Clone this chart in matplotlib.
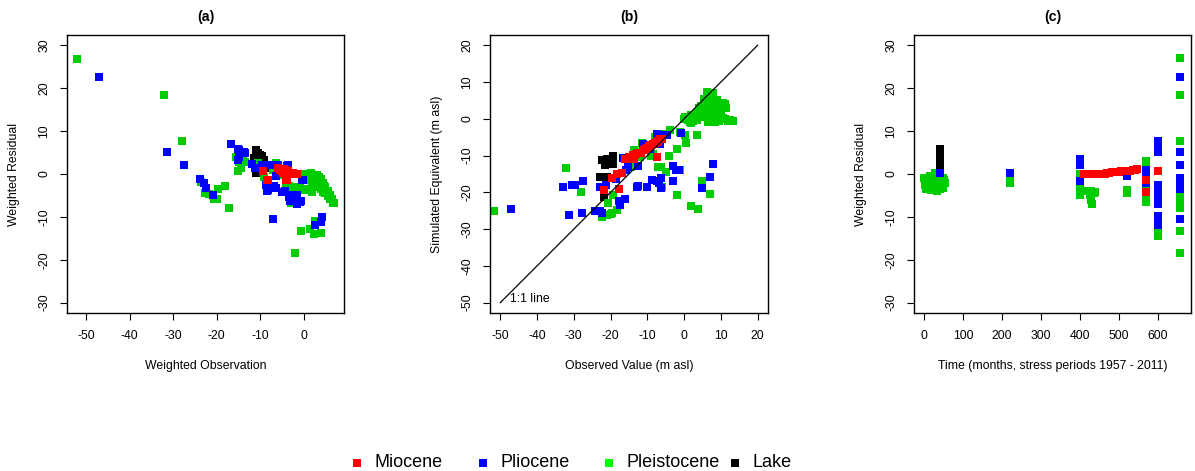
import numpy as np
import matplotlib
matplotlib.use("Agg")
import matplotlib.pyplot as plt
from matplotlib.lines import Line2D

plt.rcParams['font.family'] = ['Liberation Sans', 'DejaVu Sans']
plt.rcParams['axes.unicode_minus'] = False

# colours as in the original R plot (points in green3, legend in green)
col_mio = '#FF0000'
col_plio = '#0000FF'
col_plei = '#00CD00'
col_lake = '#000000'

# ---- panel (a): weighted observation vs weighted residual
a_mio_x = [-9.3, -8.4, -8.2, -5.9, -5.5, -5.0, -4.5, -4.2, -4.0, -3.5, -3.0, -2.5, -2.0, -1.5, -4.8, -3.8, -4.0]
a_mio_y = [0.7, -1.5, -1.3, 1.5, 1.0, 0.8, 1.2, 0.5, 0.9, 0.6, 0.3, 0.2, 0.1, 0.0, 0.3, -1.3, -1.3]

a_lake_x = [-11.0, -10.5, -10.0, -9.5, -11.5, -9.0, -10.8, -9.5, -11.0, -8.8]
a_lake_y = [5.5, 5.0, 4.5, 4.2, 3.8, 3.3, 2.5, 2.0, 0.3, 1.5]

a_plio_x = [-47.0, -31.5, -27.5, -23.9, -23.0, -22.5, -20.9, -16.6, -15.1, -14.8, -14.9, -15.2,
            -13.8, -13.5, -11.8, -11.2, -11.0, -9.3, -9.5, -7.4, -7.7, -5.9, -3.8, -3.6, -8.6, -8.2,
            -8.5, -8.4, -7.1, -6.7, -6.4, -6.3, -5.0, -4.3, -3.2, -3.1, -3.3, -1.7, -1.5, -1.3,
            -1.5, -0.8, -0.5, -0.4, -0.2, 4.3, 3.9, 2.7]
a_plio_y = [22.5, 5.2, 2.0, -1.1, -2.2, -3.2, -5.0, 7.1, 5.9, 5.5, 3.9, 3.2,
            5.1, 5.0, 2.3, 1.5, 1.3, 2.2, 2.0, 2.2, 2.1, 2.2, 1.9, 2.0, -2.5, -3.7,
            -2.9, -3.9, -10.6, -2.7, -3.3, -0.4, -4.3, -3.9, -4.8, -6.3, -5.3, -4.8, -5.0, -6.4,
            -7.0, -6.5, -6.2, -1.5, -1.3, -10.0, -11.3, -11.9]

a_plei_x = [-52.1, -32.0, -28.0, -23.5, -22.6, -21.8, -20.5, -19.9, -19.7, -18.0, -17.1, -15.5,
            -14.9, -13.5, -15.2, -14.3, -14.0, -10.4, -9.0, -6.4, -7.0, -6.0, -5.0, -4.0, -3.4,
            -2.5, -2.3, -0.9, 0.2, -2.8, -4.0, 2.0, 2.1, 2.7, 1.4, -0.5, 2.3, 3.9, -1.9,
            -0.5, 0.0, 0.2, 0.5, 1.0, 1.5, 1.8, 2.0, 2.5, 3.0, 3.5, 4.0, 4.1, 4.5, 4.8, 5.0, 5.5,
            5.6, 6.0, 6.5, 6.7, 7.0, 1.0, 1.5, 2.0, 2.5, 3.0, 3.5, 4.0, 4.5, 5.0, 5.5, 3.0, 2.0,
            4.0, 3.5, 1.0, 6.0, 0.5]
a_plei_y = [26.9, 18.5, 7.8, -1.8, -4.4, -4.7, -5.8, -5.8, -3.4, -2.7, -8.0, 3.9,
            2.8, 2.7, 0.7, 1.5, 3.5, 2.6, -0.6, 2.6, 1.0, 1.0, -0.3, -0.5, -2.9,
            -3.3, -3.0, -3.0, -3.7, -6.7, -3.0, -4.2, -2.1, -11.0, -12.8, -13.2, -14.1, -13.8, -18.5,
            0.0, -0.2, -0.2, 0.0, -0.3, 0.0, 0.2, -0.2, -0.5, -0.3, -0.8, -1.2, -1.3, -2.0, -2.9, -3.0, -4.0,
            -4.8, -5.0, -5.8, -6.8, -6.8, -1.0, -1.5, -1.2, -2.0, -2.5, -3.0, -3.5, -4.2, -4.5, -5.2, -1.5, -2.5,
            -2.8, -2.0, -3.5, -5.8, -1.2]

# ---- panel (b): observed vs simulated (m asl)
b_mio_obs = [-21.9, -19.6, -17.6, -18.2, -17.0, -16.0, -15.0, -14.3, -14.0, -13.5, -13.0, -12.5, -11.6,
             -11.0, -10.5, -10.0, -9.5, -9.0, -8.5, -8.0, -7.5, -7.0, -6.6, -6.0, -7.5]
b_mio_sim = [-19.3, -16.2, -19.0, -15.1, -14.7, -11.0, -10.5, -10.6, -9.8, -10.8, -9.5, -9.3, -9.2,
             -8.5, -8.2, -7.8, -7.5, -7.0, -6.8, -6.5, -6.0, -6.2, -5.6, -5.5, -10.4]

b_lake_obs = [-22.4, -21.6, -21.1, -19.8, -19.2, -19.3, -22.9, -21.0, -21.9, -16.5]
b_lake_sim = [-11.1, -12.5, -10.9, -11.1, -10.2, -12.4, -15.8, -15.8, -21.2, -10.6]

b_plio_obs = [-47.0, -33.0, -30.5, -29.6, -27.4, -31.4, -27.7, -24.3, -23.0, -23.0, -22.3, -21.2,
              -17.7, -17.4, -18.4, -16.3, -15.7, -15.2, -12.5, -11.2, -10.2, -9.2, -7.5, -6.6, -5.7,
              -4.7, -0.8, -3.1, -2.3, -1.5, -3.1, 7.8, 7.1, 4.8, -6.2, -6.4, -6.7, -7.5, -8.8,
              -10.2, -12.8, -12.4, -16.1]
b_plio_sim = [-24.4, -18.6, -18.0, -18.0, -16.8, -26.2, -25.6, -25.1, -25.1, -18.6, -25.5, -18.0,
              -22.3, -23.5, -16.3, -10.6, -14.0, -13.0, -12.9, -6.8, -7.0, -8.1, -4.0, -6.9, -4.4,
              -4.3, -3.8, -12.7, -14.0, -13.8, -17.0, -12.4, -15.9, -18.7, -16.1, -18.8, -17.5, -17.0, -16.5,
              -18.6, -18.5, -18.4, -21.9]

b_plei_obs = [-51.8, -32.0, -28.0, -22.4, -21.0, -20.0, -19.5, -20.8, -19.3, -18.2, -15.2, -14.5,
              -14.0, -13.0, -12.5, -11.5, -10.0, -9.0, -8.5, -8.0, -7.0, -6.3, -6.0, -4.9, -4.1,
              -2.0, 0.6, -1.1, 3.5, 4.8, -2.0, 1.9, 3.9, 7.1, 0.3, -1.1, -3.8, -5.5, -6.5,
              -12.0, -13.5,
              0.0, 0.3, 1.0, 1.5, 2.0, 2.5, 2.0, 3.0, 3.5, 4.0, 3.5, 4.0, 4.5, 5.0, 5.5, 5.3, 6.0,
              6.2, 6.5, 7.0, 7.0, 7.5, 8.0, 8.0, 8.0, 8.4, 7.0, 6.5, 8.0, 9.0, 9.3, 9.8, 10.0,
              10.5, 11.0, 11.0, 12.0, 13.4, 9.0, 6.0, 5.0, 10.5, 12.5, 11.5, 9.5, 8.5]
b_plei_sim = [-25.1, -13.5, -20.0, -26.8, -26.2, -26.0, -25.5, -23.0, -20.7, -24.9, -12.4, -13.0,
              -11.5, -10.5, -9.0, -6.5, -8.0, -10.0, -9.5, -5.0, -13.1, -13.1, -18.5, -14.5, -10.2,
              -8.3, -6.5, -14.0, -4.5, -17.0, -20.6, -23.6, -24.4, -20.4, -4.3, -3.7, -3.0, -4.0, -5.5,
              -10.5, -8.5,
              0.0, 0.5, -0.3, -0.8, -1.0, -0.5, 1.0, 0.0, -0.3, 0.5, 1.5, 3.0, 3.5, 2.0, 4.0, 5.5, 4.5,
              7.4, 3.0, 6.0, 2.0, 4.0, 7.1, 5.0, 3.0, 1.3, 1.3, -0.9, -0.9, 0.5, 3.9, 0.0, 2.0,
              4.2, 4.0, 0.0, -0.6, -0.5, 5.0, 1.0, 0.5, 0.3, -0.2, 3.0, -0.6, -0.8]

# ---- panel (c): time (months) vs weighted residual
c_mio_t = [410, 416, 422, 428, 434, 440, 446, 452, 458, 464, 470, 476, 482, 488, 494, 500,
           506, 512, 518, 524, 530, 536, 542, 548, 570, 570, 600]
c_mio_res = [0.0, 0.0, 0.0, 0.0, 0.0, 0.0, 0.0, 0.0, 0.0, 0.1, 0.3, 0.3, 0.4, 0.4, 0.5, 0.5,
             0.6, 0.6, 0.7, 0.8, 0.8, 0.9, 1.0, 1.1, -1.3, -4.2, 0.6]

c_lake_t = [40, 40, 40, 40, 40, 40, 40, 40, 40, 40]
c_lake_res = [5.8, 5.3, 4.8, 4.3, 3.8, 3.3, 2.8, 2.3, 0.6, 0.4]

c_plio_t = [40, 220, 400, 400, 400, 520, 570, 570, 570, 570, 600, 600, 600, 600, 600, 600, 600,
            600, 600, 600, 600, 600, 658, 658, 658, 658, 658, 658, 658, 658]
c_plio_res = [0.2, 0.2, 3.6, 2.2, -1.6, -0.5, 1.0, 0.0, -1.2, -2.0, 7.6, 6.5, 5.2, -2.5, -3.5,
              -4.5, -5.5, -6.5, -7.0, -9.8, -11.0, -12.0, 22.5, 5.2, 2.0, -1.0, -2.0, -3.0, -3.5, -10.6]

c_plei_t = [0, 2, 5, 8, 10, 12, 15, 18, 20, 22, 25, 28, 30, 32, 35, 38, 40, 42, 45, 48, 50, 52,
            3, 14, 27, 37, 47,
            220, 220, 400, 400, 400, 400, 400, 400, 422, 425, 428, 430, 435, 440, 428,
            520, 520, 570, 570, 570, 570, 570, 600, 600, 600,
            658, 658, 658, 658, 658, 658, 658, 658, 658]
c_plei_res = [-1.0, -2.5, -3.5, -1.5, -3.0, -2.0, -0.5, -3.8, -1.2, -2.8, -3.3, 0.2, -1.8, -4.0,
              -2.2, -0.8, -3.5, -1.0, -2.7, -3.2, -1.5, -2.0,
              -2.0, -1.5, -3.8, -2.5, -1.0,
              -1.2, -2.0, 0.0, -0.5, -2.0, -3.0, -4.0, -5.0, -4.0, -5.0, -6.0, -7.0, -4.5, -4.2, -4.0,
              -3.7, -4.5, 3.0, 2.0, -3.0, -5.0, -6.5, -12.8, -13.5, -14.5,
              27.0, 18.5, 7.8, -4.0, -5.0, -6.0, -8.0, -13.2, -18.5]

ms = 5.8
fs = 8.8

fig = plt.figure(figsize=(11.95, 4.71), dpi=100)
ax_a = fig.add_axes([0.0561, 0.3355, 0.2318, 0.5902])
ax_b = fig.add_axes([0.4100, 0.3355, 0.2326, 0.5902])
ax_c = fig.add_axes([0.7650, 0.3355, 0.2318, 0.5902])


def scatter_groups(ax, groups):
    for x, y, c in groups:
        ax.plot(x, y, linestyle='none', marker='s', markersize=ms, color=c,
                markeredgewidth=0)


def style(ax, title, xlabel, ylabel, xticks, yticks):
    ax.set_title(title, fontsize=10.2, fontweight='bold', pad=10)
    ax.set_xlabel(xlabel, fontsize=fs, labelpad=13)
    ax.set_ylabel(ylabel, fontsize=fs, labelpad=13)
    ax.set_xticks(xticks)
    ax.set_yticks(yticks)
    ax.tick_params(direction='out', length=5, width=0.8, labelsize=fs, pad=7)
    for lab in ax.get_yticklabels():
        lab.set_rotation(90)
        lab.set_va('center')
    for sp in ax.spines.values():
        sp.set_linewidth(1.0)


# (a)
scatter_groups(ax_a, [(a_lake_x, a_lake_y, col_lake), (a_plei_x, a_plei_y, col_plei),
                      (a_plio_x, a_plio_y, col_plio), (a_mio_x, a_mio_y, col_mio)])
ax_a.set_xlim(-54.4, 9.3)
ax_a.set_ylim(-32.4, 32.4)
style(ax_a, '(a)', 'Weighted Observation', 'Weighted Residual',
      [-50, -40, -30, -20, -10, 0], [-30, -20, -10, 0, 10, 20, 30])

# (b)
scatter_groups(ax_b, [(b_lake_obs, b_lake_sim, col_lake), (b_plei_obs, b_plei_sim, col_plei),
                      (b_plio_obs, b_plio_sim, col_plio), (b_mio_obs, b_mio_sim, col_mio)])
ax_b.plot([-50, 20], [-50, 20], color='black', linewidth=0.9)
ax_b.text(-47.3, -49, '1:1 line', fontsize=fs, va='center', ha='left')
ax_b.set_xlim(-52.8, 22.8)
ax_b.set_ylim(-52.8, 22.8)
style(ax_b, '(b)', 'Observed Value (m asl)', 'Simulated Equivalent (m asl)',
      [-50, -40, -30, -20, -10, 0, 10, 20], [-50, -40, -30, -20, -10, 0, 10, 20])

# (c)
scatter_groups(ax_c, [(c_lake_t, c_lake_res, col_lake), (c_plei_t, c_plei_res, col_plei),
                      (c_plio_t, c_plio_res, col_plio), (c_mio_t, c_mio_res, col_mio)])
ax_c.set_xlim(-26, 686)
ax_c.set_ylim(-32.4, 32.4)
style(ax_c, '(c)', 'Time (months, stress periods 1957 - 2011)', 'Weighted Residual',
      [0, 100, 200, 300, 400, 500, 600], [-30, -20, -10, 0, 10, 20, 30])

# legend along the bottom, equal spacing like R's horizontal legend
leg_labels = ['Miocene', 'Pliocene', 'Pleistocene', 'Lake']
leg_colors = ['#FF0000', '#0000FF', '#00FF00', '#000000']
x0 = 357 / 1195
pitch = 126 / 1195
ly = 0.0176
for i, (lab, c) in enumerate(zip(leg_labels, leg_colors)):
    xm = x0 + i * pitch
    fig.add_artist(Line2D([xm], [ly], transform=fig.transFigure, marker='s', markersize=ms,
                          color=c, markeredgewidth=0, linestyle='none'))
    fig.text(xm + 17 / 1195, ly, lab, fontsize=13, va='center', ha='left')

fig.savefig('out.png', dpi=100)
